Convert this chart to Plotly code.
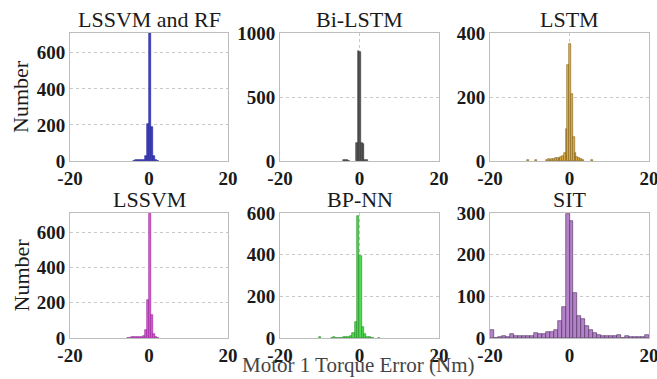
import plotly.graph_objects as go

# ---------------- data ----------------
titles = ["LSSVM and RF", "Bi-LSTM", "LSTM", "LSSVM", "BP-NN", "SIT"]

lssvm_rf_x = [-3.75, -3.25, -2.75, -2.25, -1.75, -1.25, -0.75, -0.25, 0.25, 0.75, 1.25, 1.75, 2.25]
lssvm_rf_y = [2, 3, 3, 4, 5, 8, 25, 205, 1400, 190, 25, 6, 2]

bilstm_x = [-3.9, -3.48, -3.06, -2.64, -0.66, -0.24, 0.18, 0.60, 1.02, 1.44, 1.86]
bilstm_y = [4, 5, 4, 3, 140, 860, 855, 140, 135, 10, 4]

lstm_x = [-10.4, -8.5, -5.68, -5.23, -4.78, -4.33, -3.88, -3.43, -2.98, -2.53, -2.08, -1.63, -1.18,
          -0.73, -0.28, 0.17, 0.62, 1.07, 1.52, 1.97, 2.42, 2.87, 3.32, 5.6]
lstm_y = [3, 2, 3, 6, 4, 5, 6, 8, 8, 10, 12, 15, 25,
          100, 300, 366, 210, 75, 25, 12, 8, 5, 3, 2]

lssvm_x = [-5.25, -4.75, -4.25, -3.75, -3.25, -2.75, -2.25, -1.75, -1.25, -0.75, -0.25, 0.25, 0.75, 1.25, 1.75, 2.25]
lssvm_y = [2, 2, 3, 3, 4, 5, 6, 8, 14, 45, 215, 1400, 130, 22, 6, 2]

bpnn_x = [-9.95, -6.95, -6.35, -5.75, -5.15, -4.55, -3.95, -3.35, -2.75, -2.15, -1.55, -0.95,
          -0.35, 0.25, 0.85, 1.45, 2.05, 2.65, 3.25, 4.85]
bpnn_y = [3, 2, 3, 2, 2, 2, 3, 4, 6, 10, 22, 75,
          588, 395, 53, 20, 6, 3, 2, 2]

sit_x = [-19.5 + i for i in range(40)]
sit_y = [20, 1, 2, 4, 3, 9, 6, 4, 5, 5, 5, 13, 9, 9, 15, 14, 20, 41, 74, 297,
         282, 108, 54, 45, 29, 20, 12, 7, 5, 6, 4, 4, 7, 0, 4, 3, 2, 2, 2, 7]

xs = [lssvm_rf_x, bilstm_x, lstm_x, lssvm_x, bpnn_x, sit_x]
ys = [lssvm_rf_y, bilstm_y, lstm_y, lssvm_y, bpnn_y, sit_y]
bin_widths = [0.5, 0.42, 0.45, 0.5, 0.6, 1.0]

y_ranges = [710, 1000, 400, 710, 600, 300]
y_ticks = [[0, 200, 400, 600], [0, 500, 1000], [0, 200, 400],
           [0, 200, 400, 600], [0, 200, 400, 600], [0, 100, 200, 300]]
x_ticks = [-20, 0, 20]

fills = ["#3c3ce8", "#5a5a5a", "#e6b446", "#f050f0", "#50dc50", "#b482c8"]
edges = ["#20208a", "#333333", "#7a5a18", "#8a208a", "#208a20", "#4a2a5a"]

x_label = "Motor 1 Torque Error (Nm)"
y_label = "Number"

# ---------------- layout geometry ----------------
W, H = 657, 379
col_px = [(70, 228), (280, 439), (490, 649)]
row_px = [(33, 161), (213, 338)]

fig = go.Figure()
FONT = "Liberation Serif"

for i in range(6):
    r, c = divmod(i, 3)
    ax = "" if i == 0 else str(i + 1)
    fig.add_trace(go.Bar(
        x=xs[i], y=ys[i], width=bin_widths[i],
        marker=dict(color=fills[i], line=dict(color=edges[i], width=0.6)),
        xaxis="x" + ax, yaxis="y" + ax, showlegend=False,
    ))
    x0, x1 = col_px[c]
    y0, y1 = row_px[r]
    common = dict(showline=True, mirror=True, linecolor="#bdbdbd", linewidth=1,
                  showgrid=True, gridcolor="#c8c8c8", griddash="dot", gridwidth=1,
                  zeroline=False, ticks="", automargin=False, ticklabeloverflow="allow",
                  tickfont=dict(family=FONT, size=19, color="#1a1a1a", weight="bold"))
    fig.layout["xaxis" + ax] = dict(
        domain=[x0 / W, x1 / W], anchor="y" + ax, range=[-20, 20],
        tickvals=x_ticks, ticktext=[str(v) for v in x_ticks], **common)
    fig.layout["yaxis" + ax] = dict(
        domain=[1 - y1 / H, 1 - y0 / H], anchor="x" + ax, range=[0, y_ranges[i]],
        tickvals=y_ticks[i], ticktext=[str(v) for v in y_ticks[i]], **common)
    fig.add_annotation(
        text=titles[i], x=(x0 + x1) / 2 / W, y=1 - (y0 - 14) / H,
        xref="paper", yref="paper", showarrow=False, xanchor="center", yanchor="middle",
        font=dict(family=FONT, size=22, color="#1a1a1a"))
    if c == 0:
        fig.add_annotation(
            text=y_label, x=21 / W, y=1 - (y0 + y1) / 2 / H, textangle=-90,
            xref="paper", yref="paper", showarrow=False, xanchor="center", yanchor="middle",
            font=dict(family=FONT, size=22, color="#1a1a1a"))

fig.add_annotation(
    text=x_label, x=358 / W, y=1 - 365 / H, xref="paper", yref="paper",
    showarrow=False, xanchor="center", yanchor="middle",
    font=dict(family=FONT, size=21, color="#444444"))

fig.update_layout(width=W, height=H, margin=dict(l=0, r=0, t=0, b=0),
                  paper_bgcolor="white", plot_bgcolor="white", bargap=0)

fig.write_html("out.html")
